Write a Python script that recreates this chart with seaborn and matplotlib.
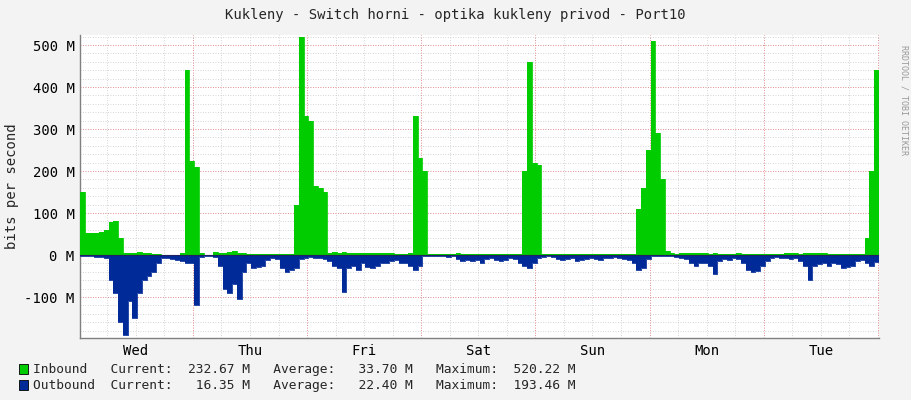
import numpy as np
import pandas as pd
import seaborn as sns
import matplotlib.pyplot as plt
from matplotlib.ticker import MultipleLocator, FuncFormatter

sns.set_theme(style="white")
plt.rcParams['font.family'] = ['DejaVu Sans Mono']

# hourly samples, Tue 00:15 .. Tue 24:00 (M bits/s)
inbound = [
    150, 52, 52, 53, 55, 60, 78, 80, 40, 6, 5, 5, 7, 6, 4, 3, 2, 1, 1, 1, 1, 5, 440, 225,
    210, 5, 1, 1, 8, 5, 6, 8, 10, 6, 4, 3, 3, 2, 2, 2, 3, 3, 2, 2, 3, 120, 520, 330,
    320, 165, 160, 150, 5, 8, 4, 8, 6, 5, 4, 5, 6, 5, 5, 6, 5, 4, 3, 3, 3, 5, 330, 230,
    200, 2, 2, 2, 3, 2, 2, 5, 2, 2, 2, 2, 2, 3, 2, 2, 2, 2, 2, 2, 3, 200, 460, 220,
    215, 3, 2, 2, 3, 2, 2, 3, 2, 2, 3, 2, 2, 2, 3, 2, 2, 2, 2, 2, 2, 110, 160, 250,
    510, 290, 180, 10, 4, 3, 4, 5, 6, 4, 5, 4, 3, 5, 3, 2, 3, 3, 4, 3, 2, 2, 3, 3,
    3, 2, 2, 3, 4, 5, 4, 3, 4, 4, 5, 6, 4, 3, 3, 2, 2, 3, 2, 2, 3, 40, 200, 440,
]
outbound = [
    3, 3, 3, 4, 5, 8, 60, 90, 160, 190, 110, 150, 90, 60, 50, 40, 20, 8, 8, 10, 12, 15, 20, 18,
    120, 5, 3, 3, 4, 25, 80, 90, 70, 105, 40, 20, 30, 28, 25, 12, 8, 10, 30, 40, 35, 30, 10, 8,
    5, 8, 6, 10, 15, 25, 30, 88, 30, 25, 35, 20, 28, 30, 25, 20, 18, 15, 12, 18, 20, 25, 35, 25,
    3, 2, 2, 3, 2, 5, 3, 10, 15, 12, 15, 12, 18, 10, 8, 12, 15, 12, 8, 10, 20, 25, 30, 20,
    8, 5, 3, 4, 10, 12, 10, 8, 15, 12, 10, 8, 10, 12, 8, 6, 5, 8, 10, 12, 20, 35, 30, 10,
    3, 2, 2, 3, 3, 5, 8, 10, 20, 25, 20, 18, 25, 45, 15, 10, 12, 8, 10, 20, 35, 40, 38, 25,
    15, 8, 5, 8, 6, 10, 8, 15, 25, 60, 25, 22, 20, 25, 20, 22, 30, 28, 25, 15, 12, 18, 25, 16,
]
days = ["Wed", "Thu", "Fri", "Sat", "Sun", "Mon", "Tue"]
legend_rows = [
    ("Inbound ", "232.67 M", "33.70 M", "520.22 M"),
    ("Outbound", "16.35 M", "22.40 M", "193.46 M"),
]

c_in, c_out = "#00CC00", "#002A97"
df = pd.DataFrame({"hour": np.arange(len(inbound) + 1),
                   "inbound": inbound + [inbound[-1]],
                   "outbound": [-v for v in outbound] + [-outbound[-1]]})

fig = plt.figure(figsize=(9.11, 4.0), dpi=100, facecolor="#F3F3F3")
ax = fig.add_axes([80 / 911, 62 / 400, 799 / 911, 303 / 400])
ax.set_facecolor("white")

ax.fill_between(df["hour"], df["inbound"], step="post", color=c_in, lw=0, zorder=3)
ax.fill_between(df["hour"], df["outbound"], step="post", color=c_out, lw=0, zorder=3)
sns.lineplot(data=df, x="hour", y="inbound", drawstyle="steps-post", color=c_in, lw=0.6, ax=ax, zorder=3)
sns.lineplot(data=df, x="hour", y="outbound", drawstyle="steps-post", color=c_out, lw=0.6, ax=ax, zorder=3)
ax.axhline(0, color="#202060", lw=0.8, zorder=4)

ax.set_xlim(0, 168)
ax.set_ylim(-197.6, 524)

# grid: minor grey every 6h / 20M, major red at midnight / 100M
for h in np.arange(5.75, 168, 6):
    ax.axvline(h, color="#c8c8c8", lw=0.6, ls=(0, (1, 2)), zorder=1)
for h in np.arange(23.75, 168, 24):
    ax.axvline(h, color="#f08080", lw=0.6, ls=(0, (1, 2)), zorder=2)
for v in np.arange(-180, 524, 20):
    ax.axhline(v, color="#c8c8c8", lw=0.6, ls=(0, (1, 2)), zorder=1)
for v in np.arange(-100, 524, 100):
    ax.axhline(v, color="#f08080", lw=0.6, ls=(0, (1, 2)), zorder=2)

ax.set_xticks(np.arange(11.75, 168, 24))
ax.set_xticklabels(days)
ax.yaxis.set_major_locator(MultipleLocator(100))
ax.yaxis.set_major_formatter(FuncFormatter(lambda v, p: f"{int(v)} M"))
ax.tick_params(axis="both", labelsize=10, length=0, pad=4, colors="#000000")
ax.set_xlabel("")
ax.set_ylabel("bits per second", fontsize=10)
for s in ["top", "right"]:
    ax.spines[s].set_visible(False)
for s in ["left", "bottom"]:
    ax.spines[s].set_color("#808080")
    ax.spines[s].set_linewidth(1)

fig.text(0.5, 0.962, "Kukleny - Switch horni - optika kukleny privod - Port10",
         ha="center", va="center", fontsize=10)
fig.text(0.992, 0.75, "RRDTOOL / TOBI OETIKER", rotation=270, ha="center", va="center",
         fontsize=6, color="#999999")

for i, (name, cur, avg, mx) in enumerate(legend_rows):
    y = 31 / 400 - i * 16 / 400
    col = c_in if i == 0 else c_out
    fig.patches.append(plt.Rectangle((19 / 911, y - 5 / 400), 9 / 911, 10 / 400,
                                     transform=fig.transFigure, facecolor=col,
                                     edgecolor="black", lw=0.6))
    fig.text(33 / 911, y, f"{name}  Current: {cur:>9}   Average: {avg:>9}   Maximum: {mx:>9}",
             ha="left", va="center", fontsize=9.3)

fig.savefig("out.png", dpi=100, facecolor=fig.get_facecolor())
